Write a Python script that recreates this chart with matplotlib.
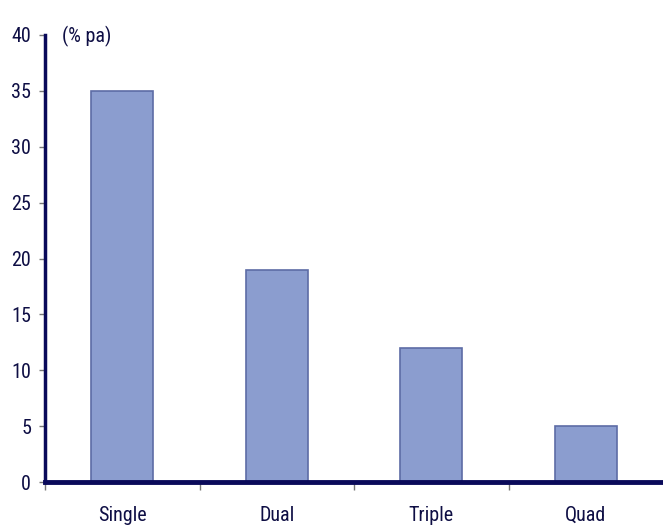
import numpy as np
from matplotlib import pyplot as plt
from matplotlib import font_manager

# The chart values
categories = ["Single", "Dual", "Triple", "Quad"]
values = [35, 19, 12, 5]
yticks = [0, 5, 10, 15, 20, 25, 30, 35, 40]

# pick a narrow font if one is installed
names = set(f.name for f in font_manager.fontManager.ttflist)
narrow = [n for n in ["Liberation Sans Narrow", "DejaVu Sans Condensed", "Roboto Condensed", "Open Sans Condensed"] if n in names]
plt.rcParams['font.family'] = narrow + ['DejaVu Sans']
stretch = "normal" if narrow else "condensed"
plt.rcParams['font.stretch'] = stretch

navy = "#0a0a5a"
txt = "#0e0e44"

fig = plt.figure(figsize=(6.63, 5.3), dpi=100)
ax = fig.add_axes([45 / 663, 48 / 530, 618 / 663, 447 / 530])

x = np.arange(len(categories))
ax.bar(x, values, width=0.4, color="#8b9dcf", edgecolor="#5d6ca6", linewidth=1.2, zorder=2)

ax.set_xlim(-0.5, 3.5)
ax.set_ylim(0, 40)
ax.set_yticks(yticks)
ax.set_yticklabels([str(t) for t in yticks], color=txt, fontsize=14.5)
ax.tick_params(axis="y", length=4, width=1, color="#777777", pad=6)

ax.set_xticks(x)
ax.set_xticklabels(categories, color=txt, fontsize=14.5)
ax.set_xticks(np.arange(-0.5, 3.5, 1.0), minor=True)
ax.tick_params(axis="x", which="major", length=0, pad=17)
ax.tick_params(axis="x", which="minor", length=6, width=1, color="#777777")

for s in ["top", "right"]:
    ax.spines[s].set_visible(False)
ax.spines["left"].set_color(navy)
ax.spines["left"].set_linewidth(2.5)
ax.spines["bottom"].set_color(navy)
ax.spines["bottom"].set_linewidth(3.5)
ax.spines["bottom"].set_zorder(3)

fig.text(62 / 663, 1 - 36 / 530, "(% pa)", color=txt, fontsize=14.5, va="center", ha="left")

fig.savefig("out.png", dpi=100)
